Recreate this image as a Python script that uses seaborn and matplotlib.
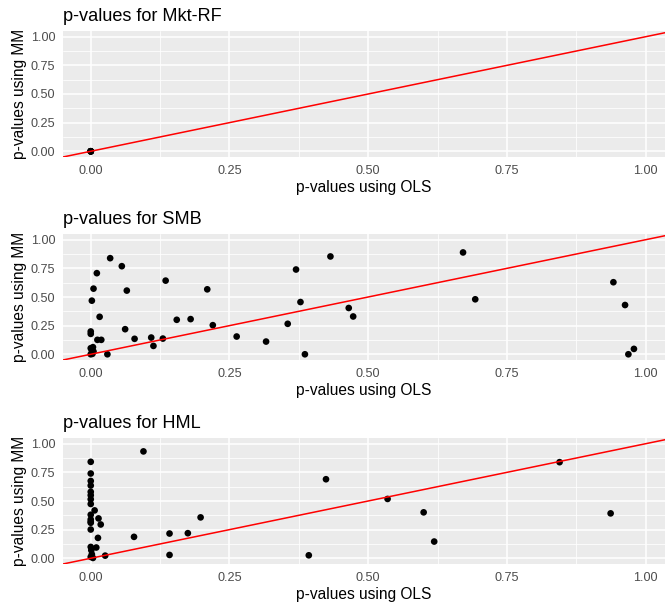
import numpy as np
import pandas as pd
import matplotlib
matplotlib.use("Agg")
import matplotlib.pyplot as plt
import seaborn as sns

# ---------------- data ----------------
titles = ["p-values for Mkt-RF", "p-values for SMB", "p-values for HML"]

mkt_ols = [0.0, 0.0, 0.0, 0.0, 0.0, 0.0]
mkt_mm = [0.0, 0.0, 0.0, 0.0, 0.0, 0.0]

smb_ols = [0.035, 0.056, 0.011, 0.005, 0.002, 0.065, 0.135, 0.210, 0.016, 0.000,
           0.000, 0.062, 0.012, 0.019, 0.079, 0.109, 0.113, 0.130, 0.155, 0.180,
           0.220, 0.263, 0.316, 0.355, 0.370, 0.378, 0.432, 0.465, 0.473, 0.386,
           0.030, 0.000, 0.004, 0.002, 0.005, 0.000, 0.003, 0.671, 0.693, 0.942,
           0.963, 0.979, 0.969]
smb_mm = [0.839, 0.769, 0.708, 0.573, 0.468, 0.556, 0.643, 0.567, 0.327, 0.199,
          0.178, 0.219, 0.126, 0.126, 0.135, 0.146, 0.073, 0.137, 0.301, 0.307,
          0.254, 0.155, 0.111, 0.266, 0.740, 0.456, 0.854, 0.404, 0.330, 0.000,
          0.000, 0.053, 0.062, 0.032, 0.024, 0.000, 0.004, 0.889, 0.480, 0.629,
          0.430, 0.047, 0.000]

hml_ols = [0.095, 0.000, 0.000, 0.000, 0.000, 0.000, 0.000, 0.000, 0.007, 0.000,
           0.000, 0.014, 0.018, 0.000, 0.013, 0.078, 0.142, 0.175, 0.198, 0.142,
           0.026, 0.010, 0.000, 0.001, 0.002, 0.000, 0.004, 0.393, 0.424, 0.535,
           0.600, 0.619, 0.845, 0.937, 0.000, 0.000, 0.000]
hml_mm = [0.933, 0.842, 0.740, 0.675, 0.635, 0.550, 0.515, 0.474, 0.418, 0.339,
          0.310, 0.348, 0.295, 0.251, 0.178, 0.187, 0.216, 0.219, 0.357, 0.029,
          0.023, 0.094, 0.099, 0.070, 0.035, 0.012, 0.003, 0.026, 0.690, 0.518,
          0.401, 0.146, 0.839, 0.392, 0.580, 0.380, 0.320]

tick_vals = [0.0, 0.25, 0.5, 0.75, 1.0]
tick_labels = ["0.00", "0.25", "0.50", "0.75", "1.00"]
minor_vals = [0.125, 0.375, 0.625, 0.875]

panels = [
    pd.DataFrame({"ols": mkt_ols, "mm": mkt_mm}),
    pd.DataFrame({"ols": smb_ols, "mm": smb_mm}),
    pd.DataFrame({"ols": hml_ols, "mm": hml_mm}),
]

# ---------------- figure ----------------
sns.set_style("white")
plt.rcParams["font.family"] = ["Liberation Sans", "DejaVu Sans"]

W, H = 665, 608
fig = plt.figure(figsize=(W / 100, H / 100), dpi=100)

panel_tops = [31, 234, 438]
panel_h = 126
left = 63

for df, title, top in zip(panels, titles, panel_tops):
    ax = fig.add_axes([left / W, 1 - (top + panel_h) / H, (W - left) / W, panel_h / H])
    ax.set_facecolor("#EBEBEB")
    ax.set_xlim(-0.05, 1.035)
    ax.set_ylim(-0.05, 1.05)
    ax.set_xticks(tick_vals)
    ax.set_xticklabels(tick_labels)
    ax.set_yticks(tick_vals)
    ax.set_yticklabels(tick_labels)
    ax.set_xticks(minor_vals, minor=True)
    ax.set_yticks(minor_vals, minor=True)
    ax.grid(True, which="major", color="white", linewidth=1.1)
    ax.grid(True, which="minor", color="white", linewidth=0.55)
    ax.set_axisbelow(True)
    for s in ax.spines.values():
        s.set_visible(False)
    ax.tick_params(which="major", length=3.5, width=0.8, color="#333333",
                   labelcolor="#4D4D4D", labelsize=9.1, pad=2)
    ax.tick_params(which="minor", length=0)

    sns.scatterplot(data=df, x="ols", y="mm", ax=ax, color="black",
                    s=23, edgecolor="none", linewidth=0, zorder=3)
    ax.axline((0, 0), slope=1, color="#FF0000", linewidth=1.1, zorder=4)

    ax.set_xlabel("p-values using OLS", fontsize=11.2, color="black", labelpad=2.5)
    ax.set_ylabel("p-values using MM", fontsize=11.2, color="black", labelpad=3)
    ax.set_title(title, loc="left", fontsize=13.1, color="black", pad=7)

fig.savefig("out.png", dpi=100)
